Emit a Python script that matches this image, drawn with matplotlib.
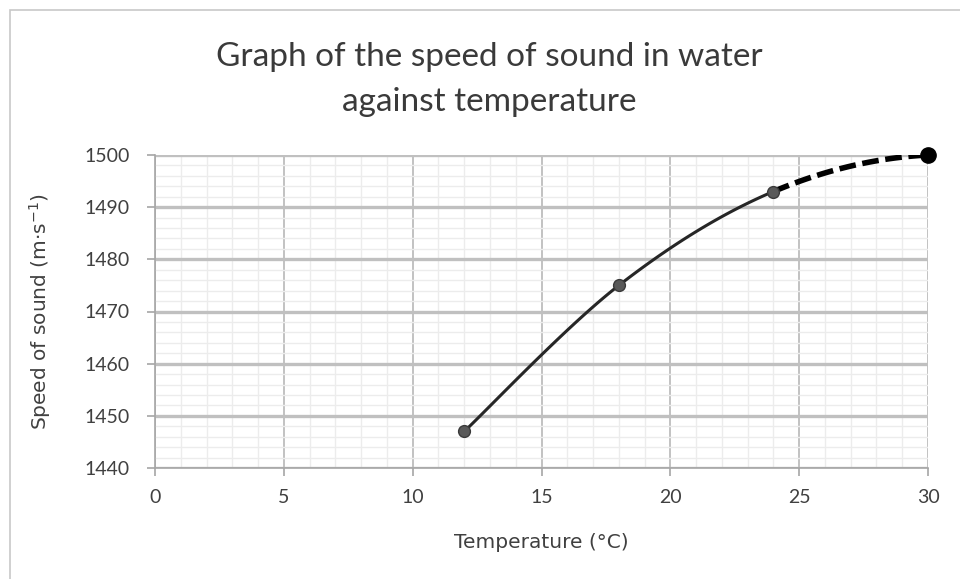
import numpy as np
import matplotlib
matplotlib.use("Agg")
import matplotlib.pyplot as plt
from matplotlib.patches import Rectangle

# Speed of sound in water at several temperatures
temperature = [12, 18, 24, 30]
speed = [1447, 1475, 1493, 1500]

x_ticks = [0, 5, 10, 15, 20, 25, 30]
y_ticks = [1440, 1450, 1460, 1470, 1480, 1490, 1500]

title_lines = ["Graph of the speed of sound in water", "against temperature"]
x_label = "Temperature (°C)"
y_label = "Speed of sound (m·s$^{-1}$)"


def smooth_segment(pts, i, n=60):
    """Cubic Bezier between pts[i] and pts[i+1] with Catmull-Rom style handles."""
    p = np.asarray(pts, dtype=float)
    p0 = p[max(i - 1, 0)]
    p1 = p[i]
    p2 = p[i + 1]
    p3 = p[min(i + 2, len(p) - 1)]
    c1 = p1 + (p2 - p0) / 6.0
    c2 = p2 - (p3 - p1) / 6.0
    t = np.linspace(0, 1, n)[:, None]
    b = ((1 - t) ** 3) * p1 + 3 * ((1 - t) ** 2) * t * c1 + 3 * (1 - t) * t ** 2 * c2 + t ** 3 * p2
    return b[:, 0], b[:, 1]


fig = plt.figure(figsize=(9.6, 5.79), dpi=100)
fig.patch.set_facecolor("white")

# outer chart frame
fig.add_artist(Rectangle((9.5 / 960, -0.01), 1.1, 1 - 10.5 / 579 + 0.01,
                         transform=fig.transFigure, fill=False,
                         edgecolor="#c8c8c8", linewidth=1.2))

ax = fig.add_axes([155 / 960, 1 - 468 / 579, (928 - 155) / 960, (468 - 155) / 579])
ax.set_xlim(0, 30)
ax.set_ylim(1440, 1500)

ax.set_xticks(x_ticks)
ax.set_yticks(y_ticks)
ax.set_xticks(np.arange(0, 31, 1), minor=True)
ax.set_yticks(np.arange(1440, 1501, 2), minor=True)

ax.grid(which="minor", axis="both", color="#ececec", linewidth=1.0)
ax.grid(which="major", axis="x", color="#b8b8b8", linewidth=1.2)
ax.grid(which="major", axis="y", color="#c0c0c0", linewidth=2.4)
ax.set_axisbelow(True)

for side in ("top", "right"):
    ax.spines[side].set_visible(False)
for side in ("left", "bottom"):
    ax.spines[side].set_color("#a6a6a6")
    ax.spines[side].set_linewidth(1.2)

ax.tick_params(which="major", length=6, width=1.2, color="#a6a6a6",
               labelsize=14, labelcolor="#404040")
ax.tick_params(axis="x", which="major", pad=9)
ax.tick_params(axis="y", which="major", pad=12)
ax.tick_params(which="minor", length=0)
for lab in ax.get_xticklabels() + ax.get_yticklabels():
    lab.set_family("Lato")

pts = list(zip(temperature, speed))
# measured region: solid smoothed curve
for i in range(len(pts) - 2):
    sx, sy = smooth_segment(pts, i)
    ax.plot(sx, sy, color="#262626", linewidth=2.2, solid_capstyle="round", zorder=3)

# extrapolated region: dashed quadratic through the last three points
coef = np.polyfit(temperature[-3:], speed[-3:], 2)
ex = np.linspace(temperature[-2], temperature[-1], 80)
ax.plot(ex, np.polyval(coef, ex), color="black", linewidth=4,
        linestyle=(0, (3, 1.2)), zorder=3)

ax.plot(temperature[:-1], speed[:-1], linestyle="none", marker="o", markersize=8.5,
        markerfacecolor="#595959", markeredgecolor="#3a3a3a", zorder=4, clip_on=False)
ax.plot(temperature[-1:], speed[-1:], linestyle="none", marker="o", markersize=11,
        markerfacecolor="black", markeredgecolor="black", zorder=4, clip_on=False)

fig.text(489 / 960, 1 - 57 / 579, title_lines[0], ha="center", va="center",
         fontsize=24, family="Lato", color="#3a3a3a")
fig.text(489 / 960, 1 - 102 / 579, title_lines[1], ha="center", va="center",
         fontsize=24, family="Lato", color="#3a3a3a")
fig.text(541 / 960, 1 - 543 / 579, x_label, ha="center", va="center",
         fontsize=14.5, family="DejaVu Sans", color="#404040")
fig.text(40 / 960, 1 - 312 / 579, y_label, ha="center", va="center", rotation=90,
         fontsize=14.5, family="DejaVu Sans", color="#404040")

fig.savefig("out.png", dpi=100, facecolor="white")
